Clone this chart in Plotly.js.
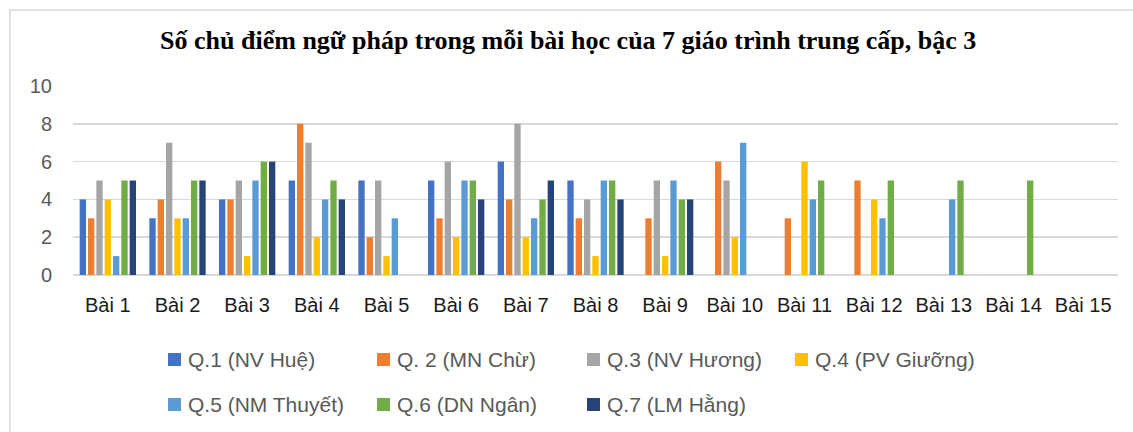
<!DOCTYPE html>
<html>
<head>
<meta charset="utf-8">
<script src="https://cdn.plot.ly/plotly-3.0.1.min.js"></script>
<style>html,body{margin:0;padding:0;background:#fff;}#chart{width:1133px;height:432px;}</style>
</head>
<body>
<div id="chart"></div>
<script>
const categories = ["Bài 1","Bài 2","Bài 3","Bài 4","Bài 5","Bài 6","Bài 7","Bài 8","Bài 9","Bài 10","Bài 11","Bài 12","Bài 13","Bài 14","Bài 15"];
const seriesNames = ["Q.1 (NV Huệ)","Q. 2 (MN Chừ)","Q.3 (NV Hương)","Q.4 (PV Giưỡng)","Q.5 (NM Thuyết)","Q.6 (DN Ngân)","Q.7 (LM Hằng)"];
const q1 = [4,3,4,5,5,5,6,5,null,null,null,null,null,null,null];
const q2 = [3,4,4,8,2,3,4,3,3,6,3,5,null,null,null];
const q3 = [5,7,5,7,5,6,8,4,5,5,null,null,null,null,null];
const q4 = [4,3,1,2,1,2,2,1,1,2,6,4,null,null,null];
const q5 = [1,3,5,4,3,5,3,5,5,7,4,3,4,null,null];
const q6 = [5,5,6,5,null,5,4,5,4,null,5,5,5,5,null];
const q7 = [5,5,6,4,null,4,5,4,4,null,null,null,null,null,null];
const seriesValues = [q1,q2,q3,q4,q5,q6,q7];
const colors = ["#4472C4","#ED7D31","#A5A5A5","#FFC000","#5B9BD5","#70AD47","#264478"];
const yTicks = [0,2,4,6,8,10];

const W = 1133, H = 432;
const M = {l:73, r:15, t:86, b:157};
const PW = W - M.l - M.r, PH = H - M.t - M.b;
const px = x => (x - M.l) / PW;
const py = y => (H - M.b - y) / PH;

const traces = seriesValues.map((v, i) => ({
  type: 'bar', x: categories, y: v, name: seriesNames[i],
  marker: {color: colors[i], line: {width: 0}}, showlegend: false
}));

// Legend layout (Excel-style, two rows)
const legendX = [168, 377, 587, 795, 168, 377, 587];
const legendY = [359.5, 359.5, 359.5, 359.5, 404.5, 404.5, 404.5];
const shapes = [];
const annotations = [];
seriesNames.forEach((n, i) => {
  shapes.push({type:'rect', xref:'paper', yref:'paper',
    x0: px(legendX[i]), x1: px(legendX[i] + 13),
    y0: py(legendY[i] + 6.5), y1: py(legendY[i] - 6.5),
    fillcolor: colors[i], line: {width: 0}});
  annotations.push({xref:'paper', yref:'paper', x: px(legendX[i] + 18), y: py(legendY[i]),
    xanchor:'left', yanchor:'middle', showarrow:false, text: n,
    font: {family:'Liberation Sans, Arial, sans-serif', size: 21, color:'#595959'}});
});
// chart border
shapes.push({type:'rect', xref:'paper', yref:'paper', x0: px(10), x1: px(1145), y0: py(445), y1: py(10),
  line: {color:'#d9d9d9', width: 1.5}, fillcolor:'rgba(0,0,0,0)', layer:'below'});

const layout = {
  width: W, height: H,
  margin: M,
  paper_bgcolor: '#fff', plot_bgcolor: '#fff',
  font: {family: 'Liberation Sans, Arial, sans-serif', color: '#595959'},
  title: {text: 'Số chủ điểm ngữ pháp trong mỗi bài học của 7 giáo trình trung cấp, bậc 3',
    font: {family: 'Liberation Serif, Times New Roman, serif', size: 26, color: '#000', weight: 'bold'},
    x: 0.5015, xref: 'container', y: 1 - 40/H, yref: 'container', yanchor: 'middle'},
  barmode: 'group', bargap: 0.163, bargroupgap: 0.24,
  xaxis: {type: 'category', showgrid: false, zeroline: false, showline: false, ticks: '',
    tickfont: {size: 20, color: '#1a1a1a'}, ticklabelstandoff: 16, fixedrange: true},
  yaxis: {range: [0, 10], tickvals: yTicks, showgrid: true, gridcolor: '#d9d9d9', gridwidth: 1.5,
    zeroline: true, zerolinecolor: '#d9d9d9', zerolinewidth: 1.5, showline: false, ticks: '',
    tickfont: {size: 20, color: '#595959'}, ticklabelstandoff: 20, fixedrange: true},
  shapes: shapes,
  annotations: annotations,
  showlegend: false
};

Plotly.newPlot('chart', traces, layout, {staticPlot: true, displayModeBar: false});
</script>
</body>
</html>
